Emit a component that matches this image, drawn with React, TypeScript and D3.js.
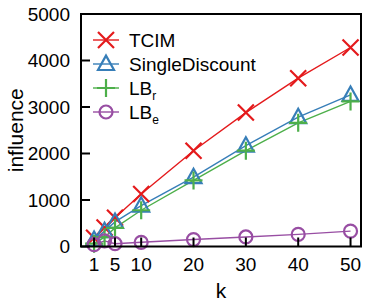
import React from "react";
import * as d3 from "d3";

const ks = [1, 3, 5, 10, 20, 30, 40, 50];
const tcim = [190, 410, 620, 1130, 2060, 2880, 3620, 4280];
const singleDiscount = [140, 330, 530, 880, 1490, 2170, 2780, 3260];
const lbR = [60, 200, 400, 780, 1420, 2060, 2660, 3120];
const lbE = [40, 120, 60, 90, 150, 205, 260, 330];
const xTicks = [1, 5, 10, 20, 30, 40, 50];
const yTicks = [0, 1000, 2000, 3000, 4000, 5000];

const W = 374, H = 306;
const L = 81, R = 361, T = 14, B = 246.5;
const FONT = "'Liberation Sans', Arial, sans-serif";

type MarkerKind = "x" | "tri" | "plus" | "circle";

function Marker({ kind, x, y, color }: { kind: MarkerKind; x: number; y: number; color: string }) {
  const sw = 2.2;
  if (kind === "x") {
    const s = 8;
    return (
      <path d={`M${x - s},${y - s}L${x + s},${y + s}M${x - s},${y + s}L${x + s},${y - s}`} stroke={color} strokeWidth={sw} fill="none" />
    );
  }
  if (kind === "plus") {
    const s = 9;
    return <path d={`M${x - s},${y}L${x + s},${y}M${x},${y - s}L${x},${y + s}`} stroke={color} strokeWidth={sw} fill="none" />;
  }
  if (kind === "tri") {
    const s = 8;
    return (
      <path d={`M${x},${y - s * 1.05}L${x + s},${y + s * 0.75}L${x - s},${y + s * 0.75}Z`} stroke={color} strokeWidth={sw} fill="none" />
    );
  }
  return <circle cx={x} cy={y} r={6.5} stroke={color} strokeWidth={sw} fill="none" />;
}

const series: { name: string; sub?: string; values: number[]; color: string; kind: MarkerKind }[] = [
  { name: "TCIM", values: tcim, color: "#e41a1c", kind: "x" },
  { name: "SingleDiscount", values: singleDiscount, color: "#377eb8", kind: "tri" },
  { name: "LB", sub: "r", values: lbR, color: "#4daf4a", kind: "plus" },
  { name: "LB", sub: "e", values: lbE, color: "#984ea3", kind: "circle" },
];

export default function App() {
  const x = d3.scaleLinear().domain([-1.5, 52]).range([L, R]);
  const y = d3.scaleLinear().domain([0, 5000]).range([B, T]);
  const line = d3
    .line<number>()
    .x((_, i) => x(ks[i]))
    .y((d) => y(d));

  return (
    <svg width={W} height={H} style={{ position: "absolute", left: 0, top: 0 }} fontFamily={FONT}>
      <rect width={W} height={H} fill="#fff" />
      {series.map((s) => (
        <path key={s.name + (s.sub || "")} d={line(s.values) || ""} stroke={s.color} strokeWidth={1.4} fill="none" />
      ))}
      {series.map((s) =>
        s.values.map((v, i) => <Marker key={s.name + (s.sub || "") + i} kind={s.kind} x={x(ks[i])} y={y(v)} color={s.color} />)
      )}
      <rect x={L} y={T} width={R - L} height={B - T} fill="none" stroke="#000" strokeWidth={2} />
      {yTicks.map((t) => (
        <g key={"y" + t}>
          <line x1={L} x2={L + 9} y1={y(t)} y2={y(t)} stroke="#000" strokeWidth={2} />
          <text x={70} y={y(t)} dy="0.36em" textAnchor="end" fontSize={19}>
            {t}
          </text>
        </g>
      ))}
      {xTicks.map((t) => (
        <g key={"x" + t}>
          <line x1={x(t)} x2={x(t)} y1={B} y2={B - 9} stroke="#000" strokeWidth={2} />
          <text x={x(t)} y={271} textAnchor="middle" fontSize={19}>
            {t}
          </text>
        </g>
      ))}
      <text x={221} y={298} textAnchor="middle" fontSize={21}>
        k
      </text>
      <text transform={`translate(23,${(T + B) / 2}) rotate(-90)`} textAnchor="middle" fontSize={21}>
        influence
      </text>
      {series.map((s, i) => {
        const ly = 40 + i * 24;
        return (
          <g key={"leg" + i}>
            <line x1={93} x2={119} y1={ly} y2={ly} stroke={s.color} strokeWidth={1.4} />
            <Marker kind={s.kind} x={106} y={ly} color={s.color} />
            <text x={129} y={ly} dy="0.36em" fontSize={19}>
              {s.name}
              {s.sub && (
                <tspan fontSize={12} dy="5">
                  {s.sub}
                </tspan>
              )}
            </text>
          </g>
        );
      })}
    </svg>
  );
}
